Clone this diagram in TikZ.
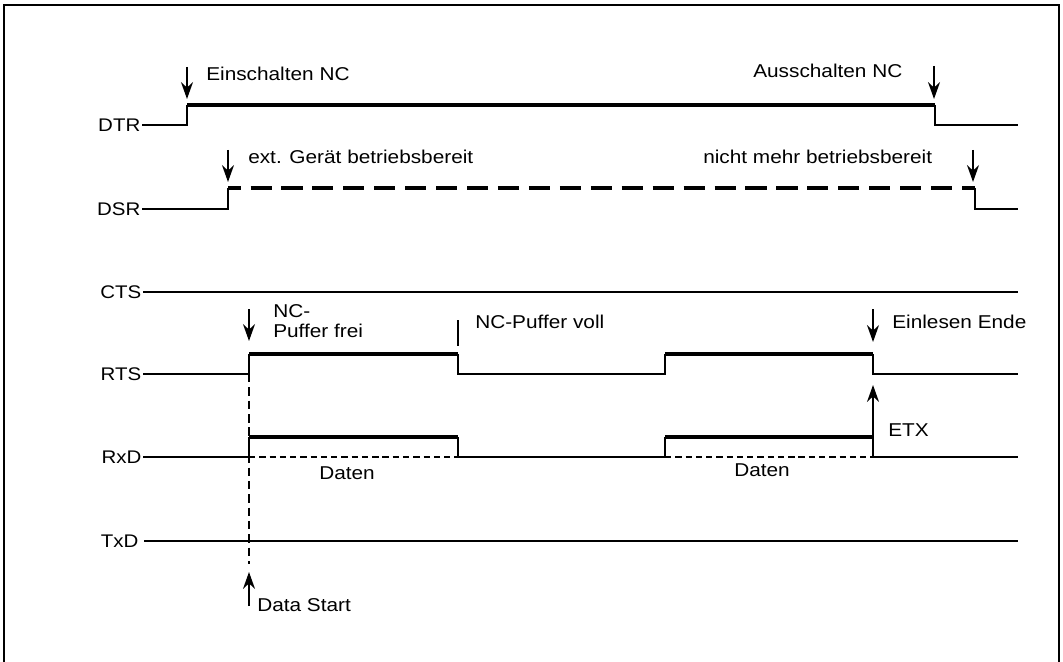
\documentclass[tikz,border=0pt]{standalone}
\usepackage{fontspec}
\setmainfont[FakeStretch=1.12]{Liberation Sans}
\usetikzlibrary{arrows.meta,positioning,calc}

\begin{document}
\begin{tikzpicture}[x=0.025cm, y=-0.025cm,
  signame/.style={anchor=east, inner sep=1pt, font=\fontsize{13}{15}\selectfont},
  note/.style={anchor=base west, inner sep=0pt, font=\fontsize{13.2}{15}\selectfont},
  low/.style={line width=1.1pt},
  high/.style={line width=2.9pt},
  highdash/.style={line width=2.9pt, dash pattern=on 15pt off 7pt, dash phase=6pt},
  lowdash/.style={line width=1.1pt, dash pattern=on 4.5pt off 2.8pt},
  guide/.style={line width=1.1pt, dash pattern=on 6pt off 3.5pt},
  pointer/.style={-{Stealth[length=12pt,width=8.5pt]}, line width=1.3pt},
  frame/.style={line width=1.4pt},
]
  \useasboundingbox (0,0) rectangle (1063,662);
  \draw[frame] (4,670) |- (1059,5) -- (1059,670);

  % signal names
  \node[signame] (dtr) at (142,125) {DTR};
  \node[signame] (dsr) at (142,209) {DSR};
  \node[signame] (cts) at (143,292) {CTS};
  \node[signame] (rts) at (143,374) {RTS};
  \node[signame] (rxd) at (143,457) {RxD};
  \node[signame] (txd) at (140,541) {TxD};

  % DTR
  \draw[low] (dtr.east) -- (187,125) -- (187,105);
  \draw[high] (187,105) -- (935,105);
  \draw[low] (935,105) -- (935,125) -- (1018,125);

  % DSR
  \draw[low] (dsr.east) -- (228,209) -- (228,188);
  \draw[highdash] (228,188) -- (975,188);
  \draw[low] (975,188) -- (975,209) -- (1018,209);

  % CTS and TxD
  \draw[low] (cts.east) -- (1018,292);
  \draw[low] ($(txd.east)+(4,0)$) -- (1018,541);

  % RTS
  \draw[low] (rts.east) -- (249,374) -- (249,354);
  \draw[high] (249,354) -- (458,354);
  \draw[low] (458,354) -- (458,374) -- (665,374) -- (665,354);
  \draw[high] (665,354) -- (873,354);
  \draw[low] (873,354) -- (873,374) -- (1018,374);

  % RxD
  \draw[low] (rxd.east) -- (249,457) -- (249,437);
  \draw[high] (249,437) -- (458,437);
  \draw[lowdash] (249,457) -- (458,457);
  \draw[low] (458,437) -- (458,457) -- (665,457) -- (665,437);
  \draw[high] (665,437) -- (873,437);
  \draw[lowdash] (665,457) -- (873,457);
  \draw[low] (873,457) -- (1018,457);

  % markers
  \coordinate (einTop) at (187,67);    \coordinate (einTip) at (187,99);
  \coordinate (ausTop) at (934,66);    \coordinate (ausTip) at (934,99);
  \coordinate (extTop) at (228,150);   \coordinate (extTip) at (228,182);
  \coordinate (nichtTop) at (973,150); \coordinate (nichtTip) at (973,182);
  \coordinate (freiTop) at (249,309);  \coordinate (freiTip) at (249,341);
  \coordinate (endeTop) at (873,309);  \coordinate (endeTip) at (873,342);
  \coordinate (etxTip) at (873,385);
  \coordinate (startFoot) at (249,606); \coordinate (startTip) at (249,572);

  \draw[pointer] (einTop) -- (einTip);
  \draw[pointer] (ausTop) -- (ausTip);
  \draw[pointer] (extTop) -- (extTip);
  \draw[pointer] (nichtTop) -- (nichtTip);
  \draw[pointer] (freiTop) -- (freiTip);
  \draw[pointer] (endeTop) -- (endeTip);
  \draw[pointer] (873,457) -- (etxTip);
  \draw[pointer] (startFoot) -- (startTip);
  \draw[guide] (249,374) -- (249,564);
  \draw[low] (458,320) -- (458,346);

  % notes
  \node[note] (ein) at (206,81) {Einschalten NC};
  \node[note] (aus) at (753,78) {Ausschalten NC};
  \node[note] (ext) at (248,164) {ext. Gerät betriebsbereit};
  \node[note] (nicht) at (703,164) {nicht mehr betriebsbereit};
  \node[note] (nc) at (273,317) {NC-};
  \node[note] (frei) at (273,337) {Puffer frei};
  \node[note] (voll) at (475,328) {NC-Puffer voll};
  \node[note] (ende) at (892,328) {Einlesen Ende};
  \node[note] (etx) at (888,436) {ETX};
  \node[note, anchor=base] (daten1) at (347,479) {Daten};
  \node[note, anchor=base] (daten2) at (762,476) {Daten};
  \node[note] (dstart) at (257,611) {Data Start};
\end{tikzpicture}
\end{document}
